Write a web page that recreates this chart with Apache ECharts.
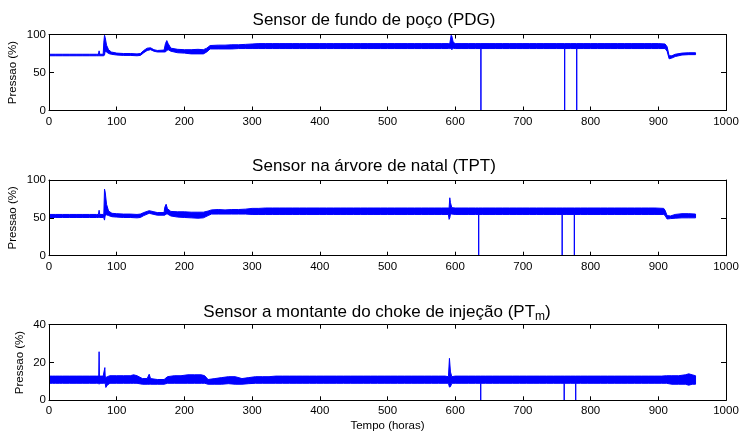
<!DOCTYPE html>
<html><head><meta charset="utf-8">
<script src="https://cdn.jsdelivr.net/npm/echarts@6/dist/echarts.min.js"></script>
<style>html,body{margin:0;padding:0;background:#fff}#c{width:740px;height:431px}</style>
</head><body><div id="c"></div>
<script>
const FONT = '"Liberation Sans", Arial, Helvetica, sans-serif';
const titleTexts = [
  '{a|Sensor de fundo de poço (PDG)}',
  '{a|Sensor na árvore de natal (TPT)}',
  '{a|Sensor a montante do choke de injeção (PT}{s|m}{a|)}'
];
const yName = 'Pressao (%)';
const xName = 'Tempo (horas)';
const yMax = [100, 100, 40];
const yStep = [50, 50, 20];

// Sensor 1 (PDG): time, lower envelope, upper envelope
const t1 = [0,10,20,30,40,50,60,70,73,74, 75,80,81,82,83,85,88,92,100,110, 120,130,135,140,145,150,155,160,170,172, 174,176,180,190,200,210,220,228,233,238, 250,260,270,280,290,300,310,320,330,340, 350,360,370,380,390,400,410,420,430,440, 450,460,470,480,490,500,510,520,530,540, 550,560,570,580,590,592,594,595,597,600, 610,620,630,637.9,638,638.1,650,660,670,680, 690,700,710,720,730,740,750,761.6,761.7,761.8, 770,779.4,779.5,779.6,790,800,810,820,830,840, 850,860,870,880,890,900,910,913,916,920, 925,935,945,955];
const lo1 = [72,72,72,72,72,72,72,72,72,72, 72,72,72,73,78,77,75,74,73,72.5, 72.5,72,72.5,76,79,80,78,77,77,77, 79,80,78,76,75.5,74.5,74.5,74.5,77,81, 81,81,81,81.5,81.5,81.5,81.5,81.5,81.5,81.5, 81.5,81.5,81.5,81.5,81.5,81.5,81.5,81.5,81.5,81.5, 81.5,81.5,81.5,81.5,81.5,81.5,81.5,81.5,81.5,81.5, 81.5,81.5,81.5,81.5,81.5,81.5,82,80,82,81.5, 81.5,81.5,81.5,81.5,0,81.5,81.5,81.5,81.5,81.5, 81.5,81.5,81.5,81.5,81.5,81.5,81.5,81.5,0,81.5, 81.5,81.5,0,81.5,81.5,81.5,81.5,81.5,81.5,81.5, 81.5,81.5,81.5,81.5,81.5,81.5,81.5,78,68,69, 71,73,73.5,73.5];
const hi1 = [74,74,74,74,74,74,74,74,74,78.5, 74,74,90,99,96,86,80,77,75.5,75, 75,74.5,75,79,82,82.5,80,79,79.5,88, 92,88,82,80.5,80,80,80.5,80,82,85.5, 86,86,86.5,86.5,87,87.5,88,88,88,88, 88,88,88,88,88,88,88,88,88,88, 88,88,88,88,88,88,88,88,88,88, 88,88,88,88,88,88,99,98,90,88, 88,88,88,88,88,88,88,88,88,88, 88,88,88,88,88,88,88,88,88,88, 88,88,88,88,88,88,88,88,88,88, 88,88,88,88,88,88,87.5,84,72,72, 74,75.5,76,76];

// Sensor 2 (TPT)
const t2 = [0,10,20,30,40,50,60,70,73,74, 75,80,81,82,83,85,88,93,100,110, 120,130,135,140,148,155,160,170,171,173, 175,180,190,200,210,220,228,235,240,250, 260,270,280,290,300,310,320,330,340,350, 360,370,380,390,400,410,420,430,440,450, 460,470,480,490,500,510,520,530,540,550, 560,570,580,590,591,592,593,595,600,610, 620,630,634.6,634.7,634.8,640,650,660,670,680, 690,700,710,720,730,740,750,757.9,758,758.1, 765,775.9,776,776.1,785,795,805,815,825,835, 845,855,865,875,885,895,908,910,913,918, 925,935,945,955];
const lo2 = [50.5,50.5,50.5,50.5,50.5,50.5,50.5,50.5,50.5,50.5, 50.5,50.5,50,47,53,54,53,51.5,51,50.5, 50.5,50,50.5,53,56,54.5,53.5,53.5,53.5,55, 55,52.5,51,50.5,50,49.5,50,53,55,55, 55,55,55,55,54.5,54.5,54.5,54.5,54.5,54.5, 54.5,54.5,54.5,54.5,54.5,54.5,54.5,54.5,54.5,54.5, 54.5,54.5,54.5,54.5,54.5,54.5,54.5,54.5,54.5,54.5, 54.5,54.5,54.5,54.5,48,50,55,55,54.5,54.5, 54.5,54.5,54.5,0,54.5,54.5,54.5,54.5,54.5,54.5, 54.5,54.5,54.5,54.5,54.5,54.5,54.5,54.5,0,54.5, 54.5,54.5,0,54.5,54.5,54.5,54.5,54.5,54.5,54.5, 54.5,54.5,54.5,54.5,54.5,54.5,54.5,53,48.5,49, 49.5,50,50,50];
const hi2 = [54.5,54.5,54.5,54.5,54.5,54.5,54.5,54.5,54.5,60, 54.5,54.5,55,88,84,68,59,56,55.5,55, 55,54.5,55,57,59.5,58,57,57,64,68, 62,58.5,58,58,57.5,57.5,57.5,59,60.5,61, 60.5,61,61,61.5,62.5,62.5,63,63,63,63, 63,63,63,63,63,63,63,63,63,63, 63,63,63,63,63,63,63,63,63,63, 63,63,63,63,63,76.5,70,63.5,63,63, 63,63,63,63,63,63,63,63,63,63, 63,63,63,63,63,63,63,63,63,63, 63,63,63,63,63,63,63,63,63,63, 63,63,63,63,63,63,62.5,60,53,52.5, 54.5,55.5,55.5,55];

// Sensor 3 (PTm)
const t3 = [0,5,10,15,20,30,40,50,60,70, 73.5,74,74.5,80,82.5,83,84,86,90,100, 110,120,125,130,138,145,148,150,160,170, 175,185,195,205,215,225,230,235,245,255, 265,275,285,295,305,315,325,335,345,355, 365,375,385,395,405,415,425,435,445,455, 465,475,485,495,505,515,525,535,545,555, 565,575,585,590,591.5,593,595,600,610,620, 630,637.6,637.7,637.8,645,655,665,675,685,695, 705,715,725,735,745,755,760.9,761,761.1,770, 777.9,778,778.1,785,795,805,815,825,835,845, 855,865,875,885,895,905,912,920,930,940, 945,950,955];
const lo3 = [9,9,9,9,9,9,9,9,9,9, 9,8.5,9,9,9,9,6.8,8,9,9, 9,9,9,9,8.5,8.5,8.5,8.5,8.5,8.5, 9,9,9,9,9,9,9,8.5,8.5,8.5, 8.8,8.5,8.5,8.8,9,9,9,9,9,9, 9,9,9,9,9,9,9,9,9,9, 9,9,9,9,9,9,9,9,9,9, 9,9,9,9,7,7.2,9,9,9,9, 9,9,0,9,9,9,9,9,9,9, 9,9,9,9,9,9,9,0,9,9, 9,0,9,9,9,9,9,9,9,9, 9,9,9,9,9,9,9,8.5,8.5,8.5, 8,8.5,8.5];
const hi3 = [12.8,12.8,12.8,12.8,12.8,12.8,12.8,12.8,12.8,12.8, 12.8,25.7,12.8,12.8,17.3,12.8,12,12.5,13,13, 13,13,13.5,13,11.5,11.5,13.8,11.5,11,11, 12.5,13,13,13.5,13.5,13.5,13,11,11.5,12, 12.5,12.5,11.5,12,12.5,12.5,12.5,12.8,12.8,12.8, 12.8,12.8,12.8,12.8,12.8,12.8,12.8,12.8,12.8,12.8, 12.8,12.8,12.8,12.8,12.8,12.8,12.8,12.8,12.8,12.8, 12.8,12.8,12.8,12.5,22.2,15,12.5,12.8,12.8,12.8, 12.8,12.8,12.8,12.8,12.8,12.8,12.8,12.8,12.8,12.8, 12.8,12.8,12.8,12.8,12.8,12.8,12.8,12.8,12.8,12.8, 12.8,12.8,12.8,12.8,12.8,12.8,12.8,12.8,12.8,12.8, 12.8,12.8,12.8,12.8,12.8,12.8,13,13,13,13.5, 14,13.5,13];

const sets = [[t1,lo1,hi1],[t2,lo2,hi2],[t3,lo3,hi3]];
const gridTops = [34.5, 180, 324.7];
const gridH = [76, 75.7, 75.6];
const titleTops = [9, 155, 301];
const titleCx = [374, 374, 377];
const yNameGap = [30, 30, 23];
const BLUE = '#0000ff';

const grid = [], xAxis = [], yAxis = [], series = [], title = [];
for (let i = 0; i < 3; i++) {
  grid.push({left: 49, right: 14, top: gridTops[i], height: gridH[i], show: false,
    containLabel: false, outerBoundsMode: 'none'});
  title.push({
    text: titleTexts[i], left: titleCx[i], top: titleTops[i], textAlign: 'center', padding: 0,
    textStyle: {fontWeight: 'normal', rich: {
      a: {fontSize: 17, lineHeight: 22, color: '#000', fontFamily: FONT, fontWeight: 'normal', verticalAlign: 'middle'},
      s: {fontSize: 12, lineHeight: 14, color: '#000', fontFamily: FONT, fontWeight: 'normal', verticalAlign: 'bottom'}
    }}
  });
  const common = {
    gridIndex: i, type: 'value', min: 0, max: 1000, interval: 100, z: 5,
    axisLine: {show: true, onZero: false, lineStyle: {color: '#000', width: 1}},
    axisTick: {show: true, inside: true, length: 4, lineStyle: {color: '#000', width: 1}},
    splitLine: {show: false}
  };
  xAxis.push(Object.assign({}, common, {
    position: 'bottom',
    axisLabel: {color: '#000', fontSize: 11.5, margin: 5, fontFamily: FONT,
      formatter: v => String(v)},
    name: i === 2 ? xName : '', nameLocation: 'middle', nameGap: 20,
    nameTextStyle: {color: '#000', fontSize: 11.5, fontFamily: FONT}
  }));
  xAxis.push(Object.assign({}, common, {position: 'top', axisLabel: {show: false}}));
  const ycommon = {
    gridIndex: i, type: 'value', min: 0, max: yMax[i], interval: yStep[i], z: 5,
    axisLine: {show: true, onZero: false, lineStyle: {color: '#000', width: 1}},
    axisTick: {show: true, inside: true, length: 5, lineStyle: {color: '#000', width: 1}},
    splitLine: {show: false}
  };
  yAxis.push(Object.assign({}, ycommon, {
    position: 'left',
    axisLabel: {color: '#000', fontSize: 11.5, margin: 3, fontFamily: FONT},
    name: yName, nameLocation: 'middle', nameGap: yNameGap[i], nameRotate: 90,
    nameMoveOverlap: false,
    nameTextStyle: {color: '#000', fontSize: 11.5, fontFamily: FONT}
  }));
  yAxis.push(Object.assign({}, ycommon, {position: 'right', axisLabel: {show: false}}));

  const [t, lo, hi] = sets[i];
  // band between lower and upper envelopes, drawn as one polygon through the axes' scales
  series.push({
    type: 'custom', coordinateSystem: 'cartesian2d',
    xAxisIndex: 2 * i, yAxisIndex: 2 * i, clip: true, silent: true,
    data: t.map((x, k) => [x, lo[k], hi[k]]),
    encode: {x: 0, y: [1, 2]},
    renderItem: function (params, api) {
      if (params.dataIndex !== 0) return null;
      const pts = [];
      for (let k = 0; k < t.length; k++) pts.push(api.coord([t[k], hi[k]]));
      for (let k = t.length - 1; k >= 0; k--) pts.push(api.coord([t[k], lo[k]]));
      return {type: 'polygon', shape: {points: pts},
        style: {fill: BLUE, stroke: BLUE, lineWidth: 1, lineJoin: 'bevel'}};
    }
  });
}

const chart = echarts.init(document.getElementById('c'), null, {renderer: 'canvas'});
chart.setOption({
  animation: false, backgroundColor: '#fff',
  title, grid, xAxis, yAxis, series
});
</script></body></html>
